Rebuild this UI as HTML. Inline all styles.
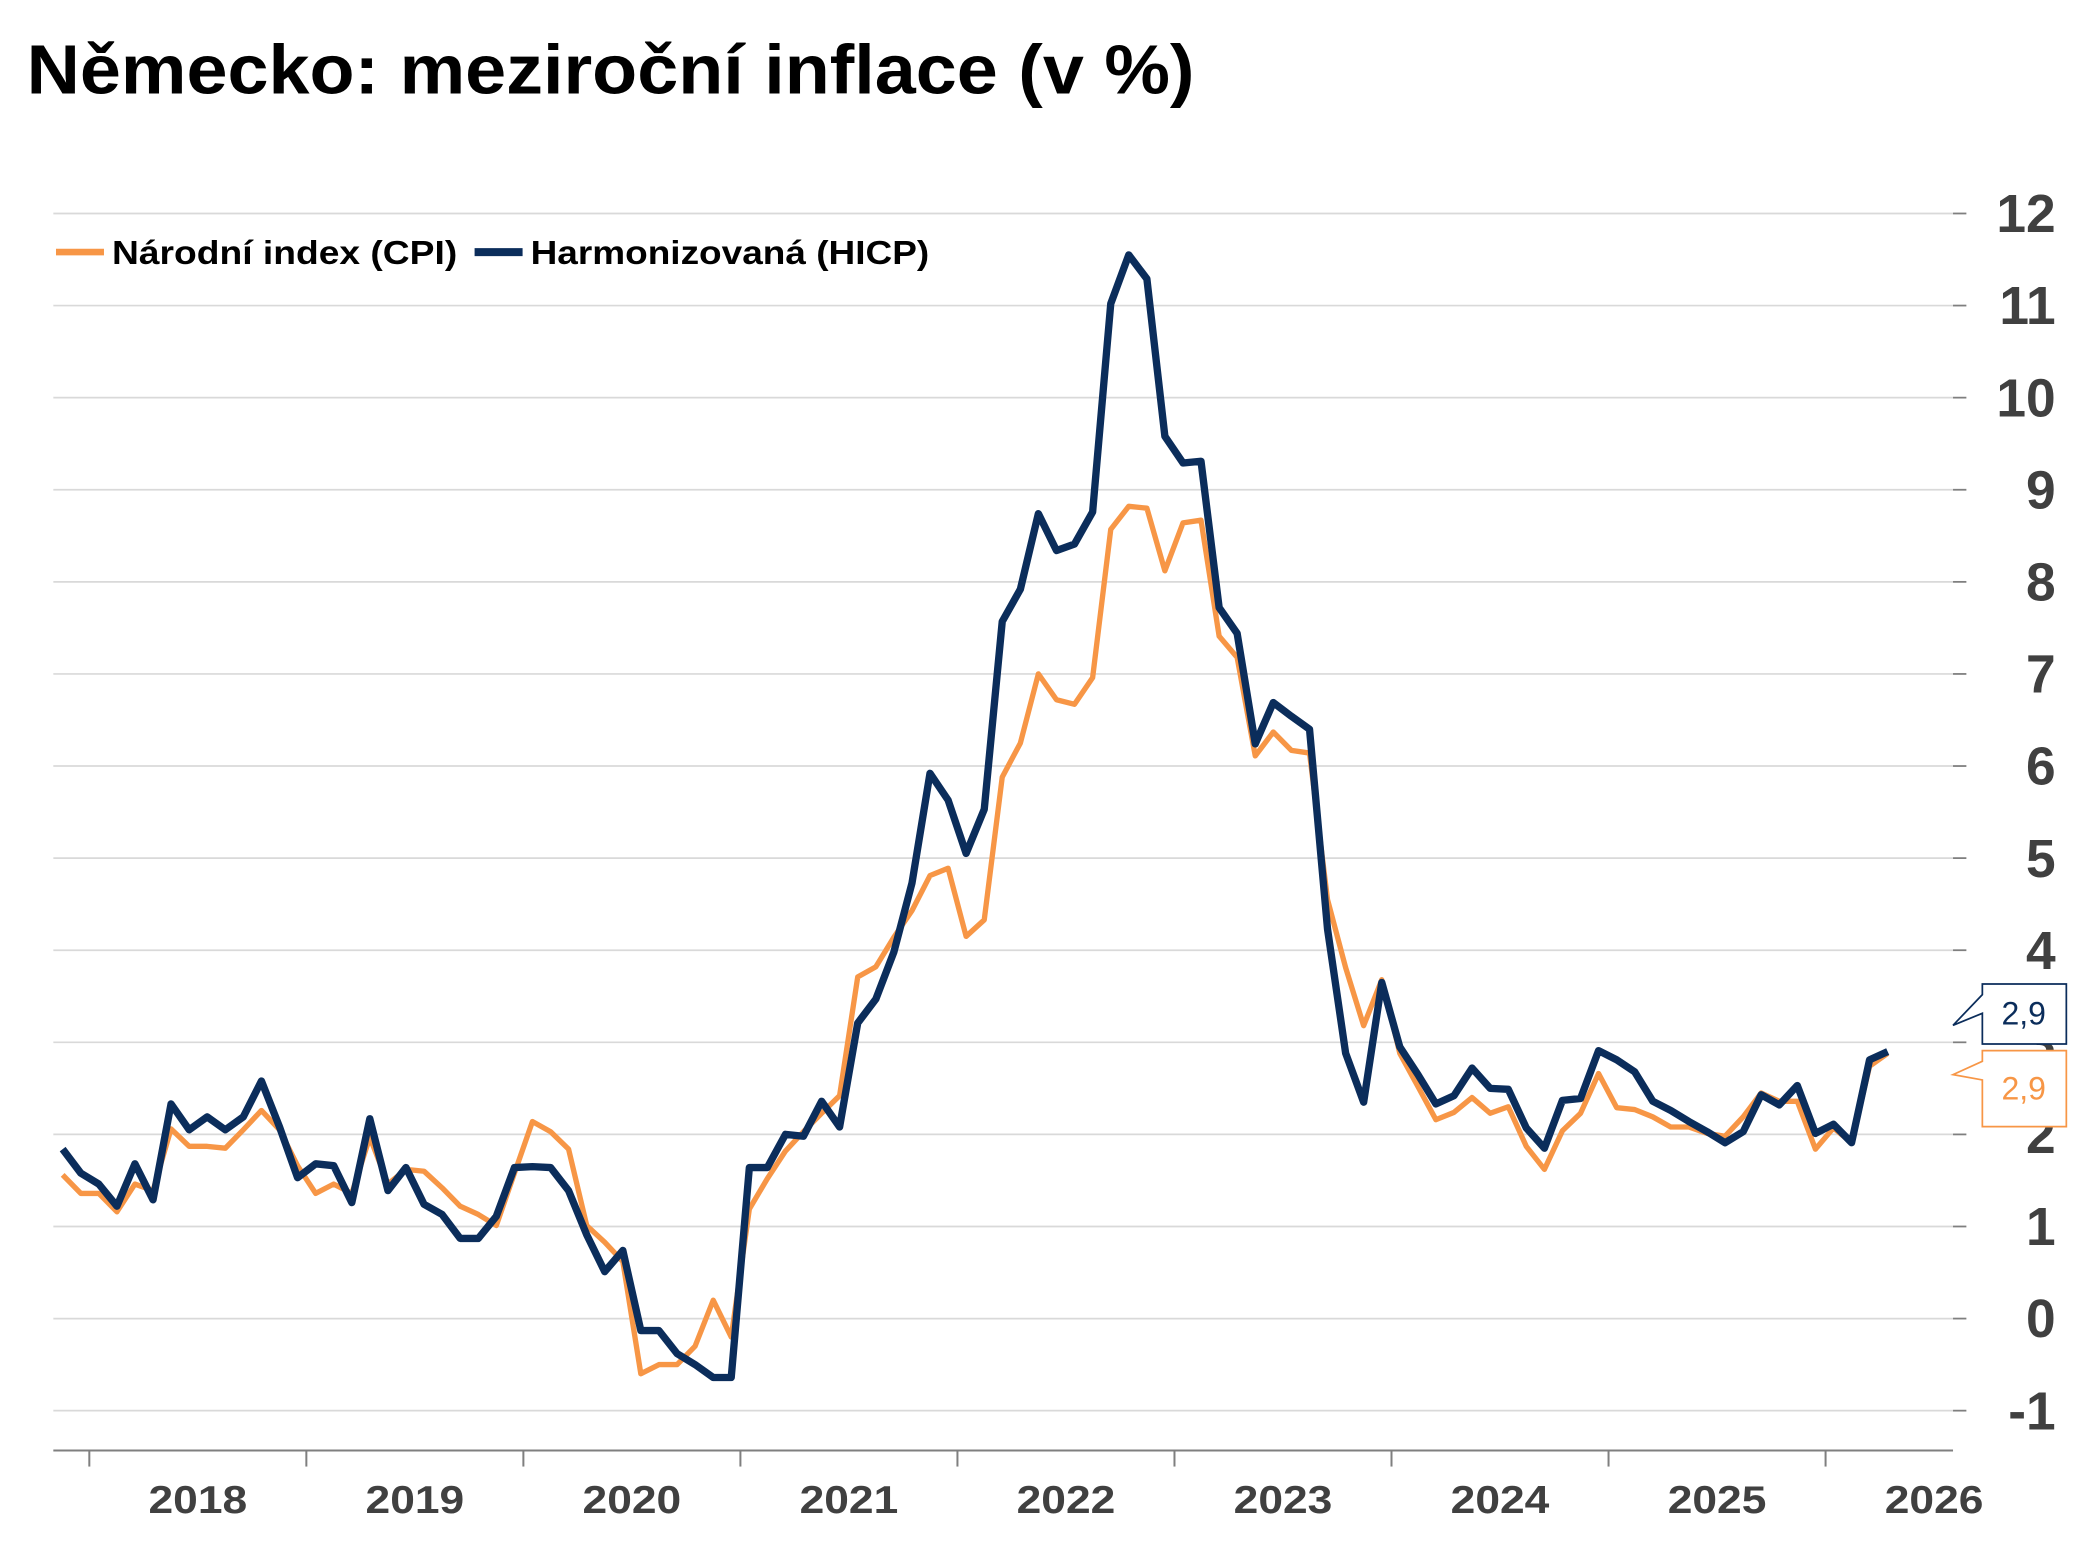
<!DOCTYPE html>
<html><head><meta charset="utf-8">
<style>
html,body{margin:0;padding:0;background:#fff;}
svg{display:block;font-family:"Liberation Sans",sans-serif;}
</style></head>
<body>
<svg id="chart" width="2093" height="1568" viewBox="0 0 1570 1176" xmlns="http://www.w3.org/2000/svg">
<rect width="1570" height="1176" fill="#fff"/>
<text x="20" y="70" font-size="52" font-weight="bold" fill="#000" textLength="876" lengthAdjust="spacingAndGlyphs">Německo: meziroční inflace (v %)</text>
<g id="grid"></g>
<g id="axes"></g>
<g id="series"></g>
<g>
  <line x1="42" y1="189" x2="78" y2="189" stroke="#F79646" stroke-width="5"/>
  <text x="84" y="198" font-size="25" font-weight="bold" fill="#000" textLength="259" lengthAdjust="spacingAndGlyphs">Národní index (CPI)</text>
  <line x1="356" y1="189" x2="392" y2="189" stroke="#0B2D5B" stroke-width="6"/>
  <text x="398" y="198" font-size="25" font-weight="bold" fill="#000" textLength="299" lengthAdjust="spacingAndGlyphs">Harmonizovaná (HICP)</text>
</g>
<g id="labels"></g>
</svg>
<script>
const yTicks = [-1,0,1,2,3,4,5,6,7,8,9,10,11,12];
const yearLabels = ["2018","2019","2020","2021","2022","2023","2024","2025","2026"];
const cpiValues = [1.56,1.36,1.36,1.16,1.46,1.39,2.06,1.87,1.87,1.85,2.05,2.26,2.05,1.66,1.36,1.46,1.36,1.97,1.46,1.62,1.6,1.42,1.22,1.13,1.01,1.58,2.14,2.03,1.84,1.01,0.83,0.62,-0.6,-0.5,-0.5,-0.3,0.2,-0.2,1.19,1.52,1.82,2.03,2.23,2.42,3.71,3.82,4.14,4.43,4.81,4.89,4.15,4.33,5.88,6.25,7.0,6.72,6.67,6.96,8.57,8.82,8.8,8.12,8.64,8.67,7.41,7.18,6.11,6.37,6.17,6.14,4.55,3.81,3.18,3.68,2.88,2.52,2.16,2.24,2.4,2.23,2.3,1.87,1.62,2.04,2.23,2.66,2.29,2.27,2.19,2.08,2.08,2.01,1.98,2.19,2.45,2.36,2.36,1.84,2.07,1.91,2.74,2.88];
const hicpValues = [1.84,1.58,1.46,1.22,1.68,1.29,2.33,2.05,2.19,2.05,2.19,2.58,2.08,1.53,1.68,1.66,1.26,2.17,1.39,1.64,1.24,1.13,0.87,0.87,1.11,1.64,1.65,1.64,1.39,0.91,0.51,0.74,-0.13,-0.13,-0.38,-0.5,-0.64,-0.64,1.64,1.64,2.0,1.98,2.36,2.08,3.21,3.47,3.98,4.73,5.92,5.63,5.05,5.53,7.57,7.92,8.74,8.34,8.41,8.76,11.02,11.55,11.29,9.58,9.29,9.31,7.72,7.44,6.24,6.69,6.54,6.4,4.23,2.88,2.35,3.65,2.95,2.65,2.33,2.42,2.72,2.5,2.49,2.07,1.85,2.37,2.39,2.91,2.81,2.68,2.36,2.26,2.14,2.03,1.91,2.03,2.43,2.32,2.53,2.01,2.11,1.91,2.81,2.9];
const lastLabels = ["2,9","2,9"];

const NS="http://www.w3.org/2000/svg";
const y = v => 989 - v*69.08;
const x = i => 47 + i*(1416-47)/(cpiValues.length-1);
function mk(tag, attrs, parent, txt){const e=document.createElementNS(NS,tag);for(const k in attrs)e.setAttribute(k,attrs[k]);if(txt!==undefined)e.textContent=txt;parent.appendChild(e);return e;}
const grid=document.getElementById('grid'), axes=document.getElementById('axes'), series=document.getElementById('series'), labels=document.getElementById('labels');
yTicks.forEach(t=>{
  const g=mk('line',{x1:40,x2:1475,y1:y(t),y2:y(t),stroke:'#d9d9d9','stroke-width':1.3},grid);
  
  
  const tk=mk('line',{x1:1465,x2:1475,y1:y(t),y2:y(t),stroke:'#7f7f7f','stroke-width':1.3},axes);
  
  
  const tl=mk('text',{x:1542,y:y(t)+14,'font-size':40,'font-weight':'bold',fill:'#404040','text-anchor':'end'},axes,String(t));
  
  
});
const ax=mk('line',{x1:40,x2:1465,y1:1088,y2:1088,stroke:'#7f7f7f','stroke-width':1.5},axes);


const yw=162.8;
yearLabels.forEach((lab,k)=>{
  const tx=67+k*yw;
  if(tx<1465){const tk=mk('line',{x1:tx,x2:tx,y1:1088,y2:1100,stroke:'#7f7f7f','stroke-width':1.5},axes);
  
  }
  const t=mk('text',{x:tx+yw/2,y:1135,'font-size':29,'font-weight':'bold',fill:'#404040','text-anchor':'middle',textLength:74,lengthAdjust:'spacingAndGlyphs'},axes,lab);
  
  
});
function line(vals,color,w,name){
  const d=vals.map((v,i)=>(i?'L':'M')+x(i).toFixed(1)+','+y(v).toFixed(1)).join(' ');
  const p=mk('path',{d:d,fill:'none',stroke:color,'stroke-width':w,'stroke-linejoin':'round'},series);
  
  
}
line(cpiValues,'#F79646',4,'cpi-line');
line(hicpValues,'#0B2D5B',5.5,'hicp-line');
function callout(tipY,top,bot,color,txt,name){
  const p=mk('path',{d:`M1465,${tipY} L1487,${top+8} L1487,${top} L1550,${top} L1550,${bot} L1487,${bot} L1487,${top+22} Z`,fill:'#fff',stroke:color,'stroke-width':1.3},labels);
  
  
  const t=mk('text',{x:1518,y:(top+bot)/2+8,'font-size':24,fill:color,'text-anchor':'middle'},labels,txt);
  
  
}
callout(769,738,783,'#0B2D5B',lastLabels[1],'hicp-last-value');
callout(806,788,845,'#F79646',lastLabels[0],'cpi-last-value');
</script>
</body></html>
